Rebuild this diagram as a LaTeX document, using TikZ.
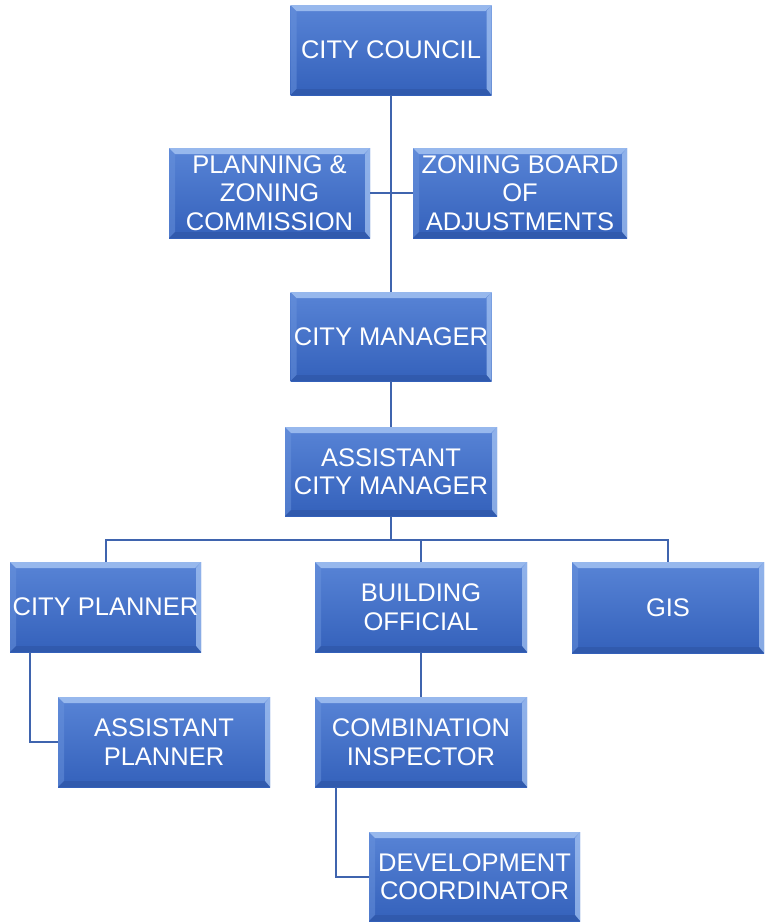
\documentclass[tikz,border=0pt]{standalone}
\usepackage{fontspec}
\setmainfont{Liberation Sans}
\usetikzlibrary{calc}
\definecolor{boxtop}{HTML}{5884D6}
\definecolor{boxbot}{HTML}{3461BB}
\definecolor{bevlight}{HTML}{A3C2F2}
\definecolor{bevside}{HTML}{6A93DC}
\definecolor{bevdark}{HTML}{2F57A8}
\definecolor{linec}{HTML}{3F64AE}
\tikzset{
  orgbox/.style={rectangle, inner sep=0pt, top color=boxtop, bottom color=boxbot,
    text=white, align=center, font=\fontsize{25.5}{28.5}\selectfont,
    path picture={
      \fill[bevlight, opacity=.85] (path picture bounding box.north west) -- (path picture bounding box.north east)
        -- ($(path picture bounding box.north east)+(-6pt,-6pt)$) -- ($(path picture bounding box.north west)+(6pt,-6pt)$) -- cycle;
      \fill[bevside, opacity=.5] (path picture bounding box.north west) -- ($(path picture bounding box.north west)+(6pt,-6pt)$)
        -- ($(path picture bounding box.south west)+(6pt,6pt)$) -- (path picture bounding box.south west) -- cycle;
      \fill[bevlight, opacity=.75] (path picture bounding box.north east) -- ($(path picture bounding box.north east)+(-5pt,-6pt)$)
        -- ($(path picture bounding box.south east)+(-5pt,6pt)$) -- (path picture bounding box.south east) -- cycle;
      \fill[bevdark, opacity=.7] (path picture bounding box.south west) -- ($(path picture bounding box.south west)+(6pt,6pt)$)
        -- ($(path picture bounding box.south east)+(-5pt,6pt)$) -- (path picture bounding box.south east) -- cycle;
    }},
  conn/.style={draw=linec, line width=2pt}
}
\begin{document}
\begin{tikzpicture}[x=1pt,y=-1pt]
\useasboundingbox (0,0) rectangle (764,922);
\node[orgbox, minimum width=201pt, minimum height=90pt] (cc) at (391,50) {CITY COUNCIL};
\node[orgbox, minimum width=201pt, minimum height=90pt] (pz) at (269.5,193) {PLANNING \&\\ZONING\\COMMISSION};
\node[orgbox, minimum width=214pt, minimum height=90pt] (zb) at (520,193) {ZONING BOARD\\OF\\ADJUSTMENTS};
\node[orgbox, minimum width=201pt, minimum height=89pt] (cm) at (391,336.5) {CITY MANAGER};
\node[orgbox, minimum width=212pt, minimum height=89pt] (acm) at (391,471.5) {ASSISTANT\\CITY MANAGER};
\node[orgbox, minimum width=191pt, minimum height=90pt] (cp) at (105.5,607) {CITY PLANNER};
\node[orgbox, minimum width=212pt, minimum height=90pt] (bo) at (421,607) {BUILDING\\OFFICIAL};
\node[orgbox, minimum width=192pt, minimum height=91pt] (gis) at (668,607.5) {GIS};
\node[orgbox, minimum width=212pt, minimum height=90pt] (ap) at (164,742) {ASSISTANT\\PLANNER};
\node[orgbox, minimum width=212pt, minimum height=90pt] (ci) at (421,742) {COMBINATION\\INSPECTOR};
\node[orgbox, minimum width=211pt, minimum height=89pt] (dc) at (474.5,876.5) {DEVELOPMENT\\COORDINATOR};
\coordinate (bus) at (391,540);
\draw[conn] (cc.south) -- (cm.north);
\draw[conn] (pz.east) -- (zb.west);
\draw[conn] (cm.south) -- (acm.north);
\draw[conn] (acm.south) -- (bus);
\draw[conn] (cp.north) |- (bus) -| (gis.north);
\draw[conn] (bo.north) -- (bo.north |- bus);
\draw[conn] ($(cp.south west)+(20,0)$) |- (ap.west);
\draw[conn] (bo.south) -- (ci.north);
\draw[conn] ($(ci.south west)+(21,0)$) |- (dc.west);
\end{tikzpicture}
\end{document}
